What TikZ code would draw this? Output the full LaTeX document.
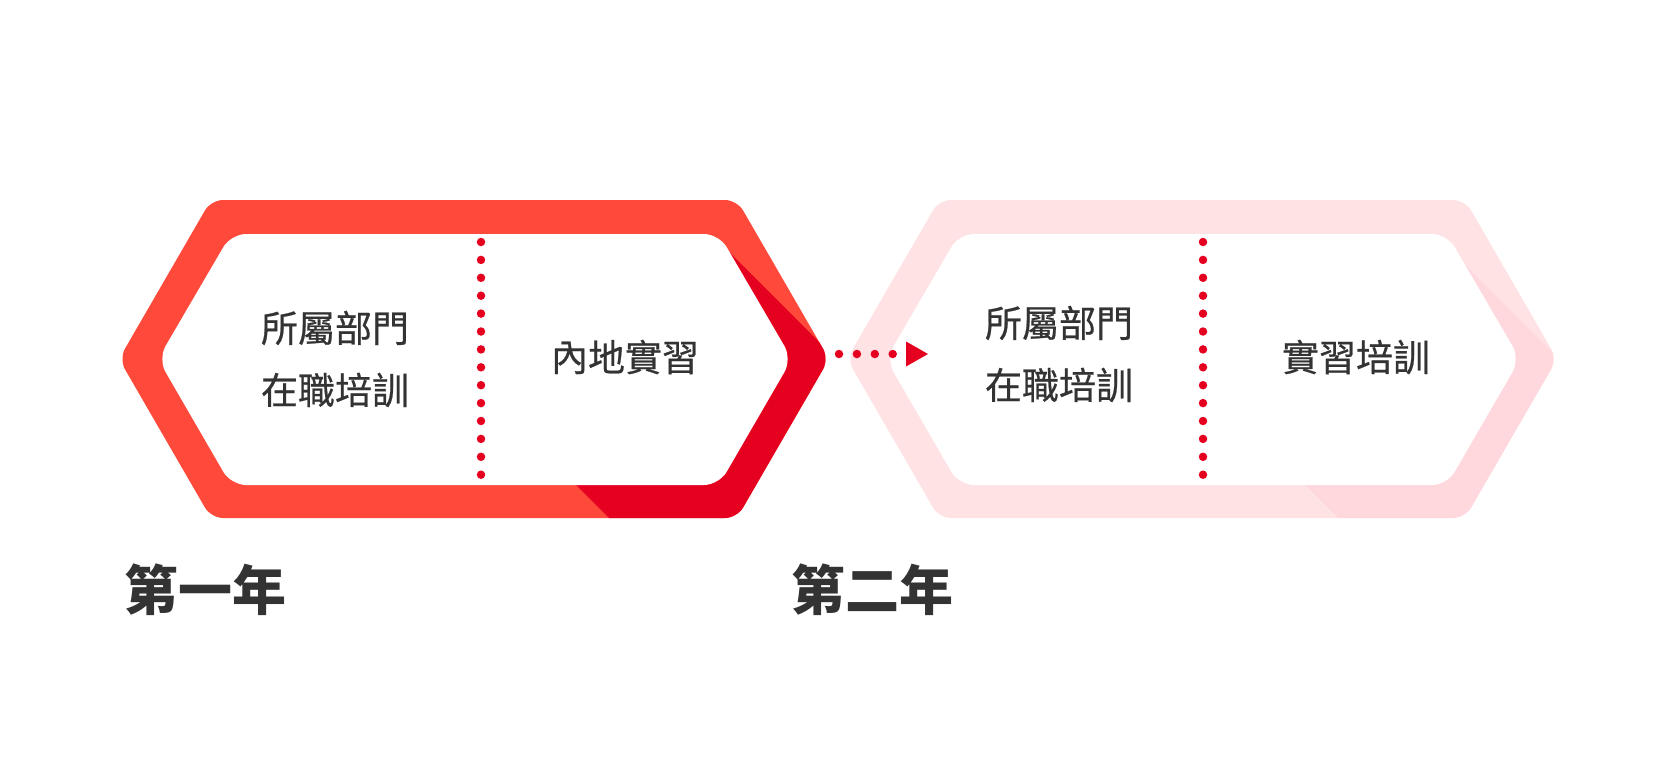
\documentclass[tikz,border=0pt]{standalone}
\usepackage{fontspec}
\newfontfamily\cjk{Noto Sans CJK TC}
\newfontfamily\cjkmid{Noto Sans CJK TC}[FakeBold=0.6]
\usetikzlibrary{arrows.meta}

\definecolor{bandA}{HTML}{FF4A3B}
\definecolor{darkA}{HTML}{E5001F}
\definecolor{bandB}{HTML}{FFE2E4}
\definecolor{darkB}{HTML}{FFD8DD}
\definecolor{dotred}{HTML}{E60020}
\definecolor{txt}{HTML}{333333}

\begin{document}
\begin{tikzpicture}[x=1pt,y=-1pt,
	stagetext/.style={font=\cjkmid\fontsize{37}{62}\selectfont, text=txt, align=center},
	yeartext/.style={font=\cjk\bfseries\fontsize{54}{60}\selectfont, text=txt},
	reddots/.style={draw=dotred, line width=8.5pt, line cap=round, dash pattern=on 0pt off 17.9pt}]

	\useasboundingbox[fill=white] (0,0) rectangle (1667,763);

	% first year hexagon
	\fill[bandA, rounded corners=12pt] (119,359) -- (211,200) -- (737,200) -- (829,359) -- (737,518) -- (211,518) -- cycle;
	\begin{scope}
		\clip[rounded corners=12pt] (119,359) -- (211,200) -- (737,200) -- (829,359) -- (737,518) -- (211,518) -- cycle;
		\fill[darkA] (724,247) -- (864,387) -- (864,560) -- (651,560) -- (560,469) -- cycle;
	\end{scope}
	\fill[white, rounded corners=15pt] (158,359) -- (231,234) -- (719,234) -- (792,359) -- (719,485) -- (231,485) -- cycle;

	% second year hexagon
	\fill[bandB, rounded corners=12pt] (847,359) -- (939,200) -- (1465,200) -- (1557,359) -- (1465,518) -- (939,518) -- cycle;
	\begin{scope}
		\clip[rounded corners=12pt] (847,359) -- (939,200) -- (1465,200) -- (1557,359) -- (1465,518) -- (939,518) -- cycle;
		\fill[darkB] (1447,247) -- (1587,387) -- (1587,560) -- (1380,560) -- (1289,469) -- cycle;
	\end{scope}
	\fill[white, rounded corners=15pt] (886,359) -- (959,234) -- (1447,234) -- (1520,359) -- (1447,485) -- (959,485) -- cycle;

	% dividers
	\coordinate (divAtop) at (481,242);
	\coordinate (divAbot) at (481,475);
	\coordinate (divBtop) at (1203,242);
	\coordinate (divBbot) at (1203,475);
	\draw[reddots] (divAtop) -- (divAbot);
	\draw[reddots] (divBtop) -- (divBbot);

	% arrow between the years
	\coordinate (arrA) at (839,354);
	\coordinate (arrB) at (928,354);
	\draw[reddots, -{Triangle[length=22pt 0 0, width=25pt 0 0, line width=0pt 0 0, fill=dotred]}] (arrA) -- (arrB);

	% stage texts
	\node[stagetext] (stageAleft)  at (335,359) {所屬部門\\在職培訓};
	\node[stagetext] (stageAright) at (625,357) {內地實習};
	\node[stagetext] (stageBleft)  at (1059,354) {所屬部門\\在職培訓};
	\node[stagetext] (stageBright) at (1356,357) {實習培訓};

	% year labels
	\node[yeartext] (yearA) at (205,590) {第一年};
	\node[yeartext] (yearB) at (872,590) {第二年};

\end{tikzpicture}
\end{document}
